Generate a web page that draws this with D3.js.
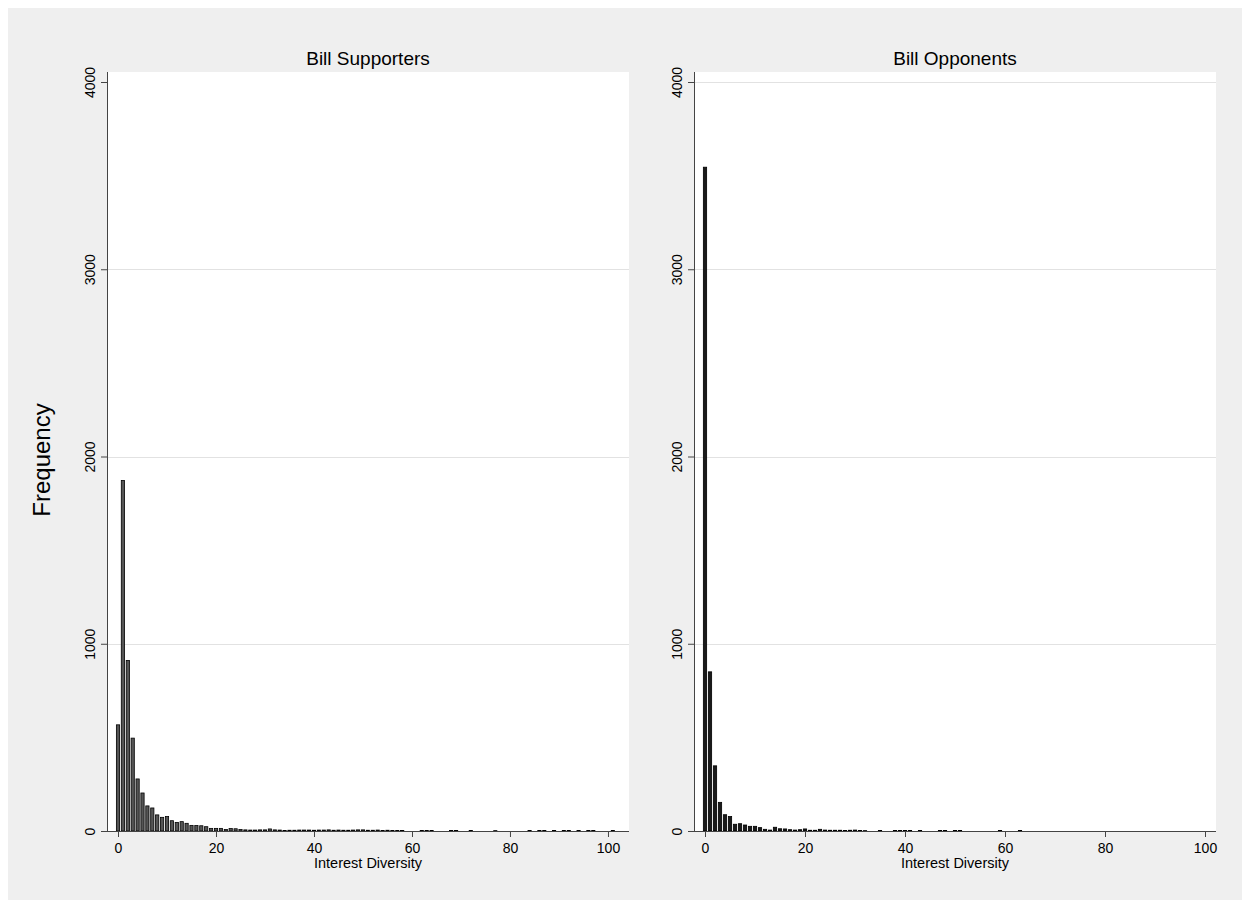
<!DOCTYPE html>
<html>
<head>
<meta charset="utf-8">
<script src="https://cdn.jsdelivr.net/npm/d3@7"></script>
<style>
    body { margin: 0; background: #ffffff; }
    svg text { font-family: "Liberation Sans", Arial, Helvetica, sans-serif; fill: #000; }
</style>
</head>
<body>
<div id="chart"></div>
<script>

// frequency of each Interest Diversity value, index = value (0, 1, 2, ...)
var supporterCounts = [
    567, 1872, 911, 496, 278, 203, 134, 123, 86, 73,
    77, 55, 46, 50, 41, 30, 29, 28, 23, 14,
    14, 14, 8, 13, 12, 8, 6, 5, 5, 6,
    6, 11, 6, 5, 3, 4, 4, 5, 5, 5,
    4, 5, 5, 6, 4, 5, 4, 4, 5, 6,
    6, 4, 4, 5, 3, 4, 3, 3, 3, 0,
    0, 0, 3, 3, 3, 0, 0, 0, 3, 3,
    0, 0, 3, 0, 0, 0, 0, 2, 0, 0,
    0, 0, 0, 0, 3, 0, 3, 3, 0, 3,
    0, 3, 3, 0, 3, 0, 3, 3, 0, 0,
    0, 3
];

var opponentCounts = [
    3545, 850, 348, 153, 87, 77, 36, 39, 32, 25,
    25, 18, 9, 5, 20, 12, 11, 7, 5, 7,
    11, 4, 4, 9, 5, 4, 4, 4, 3, 4,
    5, 3, 2, 0, 0, 3, 0, 0, 3, 3,
    3, 3, 0, 3, 0, 0, 0, 3, 3, 0,
    3, 3, 0, 0, 0, 0, 0, 0, 0, 3,
    0, 0, 0, 3
];

var panelTitles = ['Bill Supporters', 'Bill Opponents'];
var xTicks = [0, 20, 40, 60, 80, 100];
var yTicks = [0, 1000, 2000, 3000, 4000];

var width = 1250;
var height = 909;

var svg = d3.select('#chart').append('svg')
    .attr('width', width)
    .attr('height', height);

// graph region
svg.append('rect')
    .attr('x', 8)
    .attr('y', 8)
    .attr('width', width - 16)
    .attr('height', height - 17)
    .attr('fill', '#efefef');

var y = d3.scaleLinear()
    .domain([0, 4000])
    .range([831, 82]);

var panels = [
    { left: 107, right: 629, domain: [-2.245, 104.29], counts: supporterCounts, fill: '#555555', grid: [1000, 2000, 3000] },
    { left: 694, right: 1216, domain: [-2.2, 102.2], counts: opponentCounts, fill: '#1a1a1a', grid: [1000, 2000, 3000, 4000] }
];

var plotTop = 72;
var plotBottom = 831;
var barWidth = 0.66; // in data units

panels.forEach(function(p, pi) {

    var x = d3.scaleLinear()
        .domain(p.domain)
        .range([p.left, p.right]);

    var g = svg.append('g').attr('class', 'panel');

    // plot region
    g.append('rect')
        .attr('x', p.left)
        .attr('y', plotTop)
        .attr('width', p.right - p.left)
        .attr('height', plotBottom - plotTop)
        .attr('fill', '#ffffff');

    // gridlines
    g.selectAll('.grid')
        .data(p.grid).enter()
        .append('line')
        .attr('class', 'grid')
        .attr('x1', p.left)
        .attr('x2', p.right)
        .attr('y1', function(d) { return Math.round(y(d)) + 0.5; })
        .attr('y2', function(d) { return Math.round(y(d)) + 0.5; })
        .attr('stroke', '#e2e2e2')
        .attr('stroke-width', 1);

    // bars
    var data = p.counts.map(function(c, i) { return { value: i, count: c }; })
        .filter(function(d) { return d.count > 0; });

    g.selectAll('.bar')
        .data(data).enter()
        .append('rect')
        .attr('class', 'bar')
        .attr('x', function(d) { return x(d.value - barWidth / 2); })
        .attr('width', function() { return x(barWidth) - x(0); })
        .attr('y', function(d) { return y(d.count); })
        .attr('height', function(d) { return y(0) - y(d.count); })
        .attr('fill', p.fill)
        .attr('stroke', '#000')
        .attr('stroke-width', 0.8);

    // y axis
    var yAxis = g.append('g')
        .attr('transform', 'translate(' + p.left + ',0)')
        .call(d3.axisLeft(y).tickValues(yTicks).tickSize(6).tickFormat(d3.format('d')));
    yAxis.select('.domain')
        .attr('d', 'M0.5,' + plotTop + 'V' + plotBottom)
        .attr('stroke', '#444');
    yAxis.selectAll('.tick line').attr('stroke', '#444');
    yAxis.selectAll('.tick text')
        .attr('transform', 'rotate(-90)')
        .attr('x', 0)
        .attr('y', -12)
        .attr('dy', 0)
        .attr('text-anchor', 'middle')
        .style('font-size', '14px')
        .style('font-family', '"Liberation Sans", Arial, sans-serif')
        .attr('fill', '#000');

    // x axis
    var xAxis = g.append('g')
        .attr('transform', 'translate(0,' + plotBottom + ')')
        .call(d3.axisBottom(x).tickValues(xTicks).tickSize(6).tickFormat(d3.format('d')));
    xAxis.select('.domain')
        .attr('d', 'M' + p.left + ',0.5H' + p.right)
        .attr('stroke', '#444');
    xAxis.selectAll('.tick line').attr('stroke', '#444');
    xAxis.selectAll('.tick text')
        .attr('y', 22)
        .attr('dy', 0)
        .style('font-size', '14px')
        .style('font-family', '"Liberation Sans", Arial, sans-serif')
        .attr('fill', '#000');

    var cx = (p.left + p.right) / 2;

    g.append('text')
        .attr('x', cx)
        .attr('y', 868)
        .attr('text-anchor', 'middle')
        .style('font-size', '14.5px')
        .text('Interest Diversity');

    g.append('text')
        .attr('x', cx)
        .attr('y', 65)
        .attr('text-anchor', 'middle')
        .style('font-size', '19px')
        .text(panelTitles[pi]);

});

svg.append('text')
    .attr('transform', 'translate(50,460) rotate(-90)')
    .attr('text-anchor', 'middle')
    .style('font-size', '24px')
    .text('Frequency');

</script>
</body>
</html>
